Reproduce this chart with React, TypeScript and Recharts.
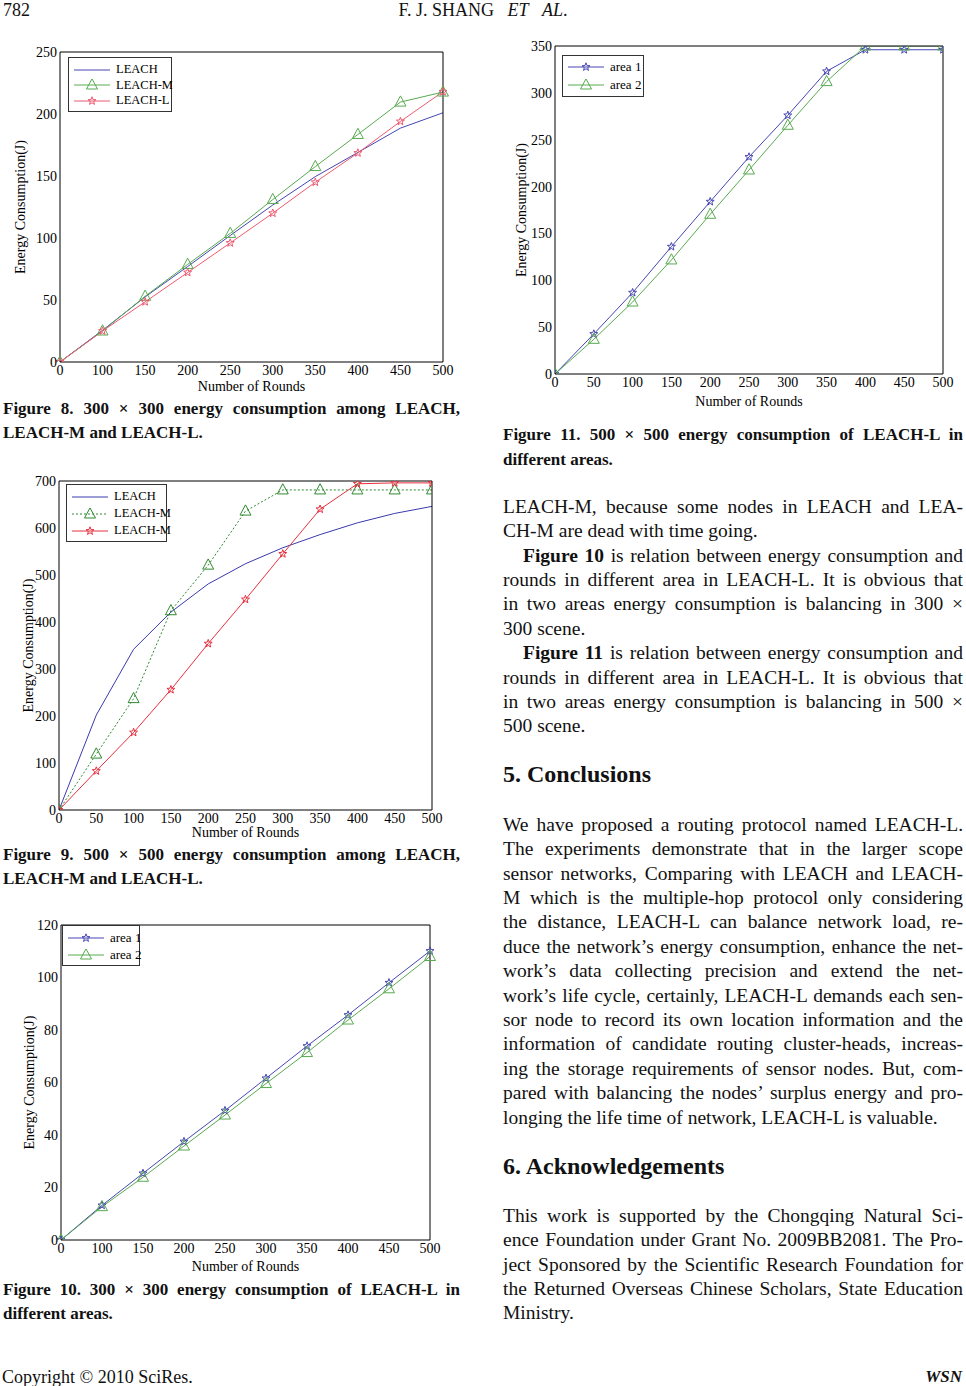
import React from "react";
import { LineChart, Line, XAxis, YAxis, Legend } from "recharts";

// x categories (figures 8 and 10 use uneven labels at even spacing)
const ROUNDS_UNEVEN = ["0", "100", "150", "200", "250", "300", "350", "400", "450", "500"];
const ROUNDS_EVEN = [0, 50, 100, 150, 200, 250, 300, 350, 400, 450, 500];

// Figure 8: 300 x 300
const FIG8_LEACH = [0, 25.6, 52.5, 77, 102, 126.6, 149.5, 169, 188.6, 201];
const FIG8_LEACH_M = [0, 25, 53, 78.7, 103.7, 131, 157.6, 183.5, 209.6, 217.7];
const FIG8_LEACH_L = [0, 25, 48.5, 72.2, 96, 120, 145, 168.6, 194, 218];
const FIG8_Y_TICKS = [0, 50, 100, 150, 200, 250];

// Figure 9: 500 x 500
const FIG9_LEACH = [0, 202, 342, 421, 481, 524, 558, 586, 611, 631, 646];
const FIG9_LEACH_M = [0, 119, 237, 424, 521, 636, 681, 681, 681, 681, 681];
const FIG9_LEACH_L = [0, 83, 165, 256, 354, 448, 545, 640, 694, 696, 696];
const FIG9_Y_TICKS = [0, 100, 200, 300, 400, 500, 600, 700];

// Figure 10: 300 x 300, two areas
const FIG10_AREA1 = [0, 13.2, 25.4, 37.5, 49.3, 61.6, 73.9, 85.7, 98, 110.1];
const FIG10_AREA2 = [0, 12.7, 23.9, 35.8, 47.6, 59.6, 71.4, 83.8, 95.7, 108];
const FIG10_Y_TICKS = [0, 20, 40, 60, 80, 100, 120];

// Figure 11: 500 x 500, two areas
const FIG11_AREA1 = [0, 42.7, 86.8, 135.9, 183.9, 231.6, 276, 323, 346, 346, 346];
const FIG11_AREA2 = [0, 37, 76.8, 121.7, 170.4, 217.7, 265.4, 312, 350, 350, 350];
const FIG11_Y_TICKS = [0, 50, 100, 150, 200, 250, 300, 350];

const SERIF = '"Liberation Serif", "Times New Roman", serif';

type Marker = "none" | "star" | "tri";
type Series = { key: string; name: string; color: string; marker: Marker; dash?: string; values: number[] };

function starPath(cx: number, cy: number, r: number) {
  let d = "";
  for (let i = 0; i < 10; i++) {
    const a = ((-90 + i * 36) * Math.PI) / 180;
    const rr = i % 2 ? r * 0.42 : r;
    d += (i ? "L" : "M") + (cx + rr * Math.cos(a)).toFixed(2) + "," + (cy + rr * Math.sin(a)).toFixed(2);
  }
  return d + "Z";
}

function triPath(cx: number, cy: number, s: number) {
  return `M${cx},${cy - s * 0.62}L${cx + s * 0.55},${cy + s * 0.4}L${cx - s * 0.55},${cy + s * 0.4}Z`;
}

function MarkerShape({ marker, cx, cy, color, size }: { marker: Marker; cx: number; cy: number; color: string; size: number }) {
  if (marker === "star") return <path d={starPath(cx, cy, size * 0.42)} fill="none" stroke={color} strokeWidth={1} />;
  if (marker === "tri") return <path d={triPath(cx, cy, size)} fill="none" stroke={color} strokeWidth={1} />;
  return null;
}

function makeDot(s: Series, size: number) {
  if (s.marker === "none") return false;
  return (p: any) => {
    if (p.cx == null || p.cy == null) return <g key={`${s.key}-${p.index}`} />;
    return (
      <g key={`${s.key}-${p.index}`}>
        <MarkerShape marker={s.marker} cx={p.cx} cy={p.cy} color={s.color} size={size} />
      </g>
    );
  };
}

type ChartProps = {
  box: { left: number; top: number; w: number; h: number };
  plot: { l: number; r: number; t: number; b: number };
  ylabelX: number;
  xlabelY: number;
  categories: (string | number)[];
  numericX: boolean;
  yTicks: number[];
  series: Series[];
  legend: { left: number; top: number; w: number; rowH: number; padTop: number; font: number; sample: number };
  markerSize: number;
  lineWidth?: number;
};

function Chart({ box, plot, ylabelX, xlabelY, categories, numericX, yTicks, series, legend, markerSize, lineWidth = 1 }: ChartProps) {
  const data = categories.map((c, i) => {
    const row: Record<string, number | string> = { round: c };
    series.forEach((s) => (row[s.key] = s.values[i]));
    return row;
  });
  const plotL = plot.l - box.left;
  const plotR = plot.r - box.left;
  const plotT = plot.t - box.top;
  const plotB = plot.b - box.top;
  const mLeft = ylabelX - box.left - 10;
  const yWidth = plotL - mLeft;
  const xHeight = xlabelY - box.top - plotB - 7;
  const margin = { top: plotT, right: box.w - plotR, bottom: box.h - plotB - xHeight, left: mLeft };
  const yDomain = [yTicks[0], yTicks[yTicks.length - 1]];

  const xCommon: any = numericX
    ? { dataKey: "round", type: "number", domain: [0, 500], ticks: categories, allowDataOverflow: true }
    : { dataKey: "round", type: "category", interval: 0 };
  const yCommon: any = { type: "number", domain: yDomain, ticks: yTicks, allowDataOverflow: true, interval: 0 };
  const tickStyle = { fontSize: 14, fill: "#000", fontFamily: SERIF };
  const stroke = { stroke: "#000", strokeWidth: 1 };

  const legendContent = () => (
    <div
      style={{
        width: legend.w,
        boxSizing: "border-box",
        border: "1px solid #333",
        background: "#fff",
        paddingTop: legend.padTop,
        paddingBottom: 2,
        fontFamily: SERIF,
        fontSize: legend.font,
        color: "#000",
      }}
    >
      {series.map((s) => (
        <div key={s.key} style={{ display: "flex", alignItems: "center", height: legend.rowH, whiteSpace: "nowrap" }}>
          <svg width={legend.sample + 10} height={12} style={{ flex: "none" }}>
            <line x1={5} x2={legend.sample + 5} y1={6} y2={6} stroke={s.color} strokeWidth={1} strokeDasharray={s.dash} />
            <MarkerShape marker={s.marker} cx={legend.sample / 2 + 5} cy={6} color={s.color} size={markerSize} />
          </svg>
          <span style={{ marginLeft: 1 }}>{s.name}</span>
        </div>
      ))}
    </div>
  );

  return (
    <div style={{ position: "absolute", left: box.left, top: box.top, width: box.w, height: box.h, fontFamily: SERIF }}>
      <LineChart width={box.w} height={box.h} data={data} margin={margin}>
        <XAxis
          {...xCommon}
          height={xHeight}
          tick={tickStyle}
          tickLine={false}
          tickSize={0}
          tickMargin={3}
          axisLine={stroke}
          label={{ value: "Number of Rounds", position: "bottom", offset: 0, fontSize: 14, fill: "#000" }}
        />
        <XAxis {...xCommon} xAxisId="xb" orientation="bottom" mirror height={10} tick={false} tickSize={5} tickLine={stroke} axisLine={false} />
        <XAxis {...xCommon} xAxisId="xt" orientation="top" mirror height={10} tick={false} tickSize={5} tickLine={stroke} axisLine={stroke} />
        <YAxis
          {...yCommon}
          width={yWidth}
          tick={tickStyle}
          tickLine={false}
          tickSize={0}
          tickMargin={3}
          axisLine={stroke}
          label={{
            value: "Energy Consumption(J)",
            angle: -90,
            position: "insideLeft",
            offset: 10,
            fontSize: 14,
            fill: "#000",
            style: { textAnchor: "middle" },
          }}
        />
        <YAxis {...yCommon} yAxisId="yl" orientation="left" mirror width={10} tick={false} tickSize={5} tickLine={stroke} axisLine={false} />
        <YAxis {...yCommon} yAxisId="yr" orientation="right" mirror width={10} tick={false} tickSize={5} tickLine={stroke} axisLine={stroke} />
        {series.map((s) => (
          <Line
            key={s.key}
            type="linear"
            dataKey={s.key}
            name={s.name}
            stroke={s.color}
            strokeWidth={lineWidth}
            strokeDasharray={s.dash}
            dot={makeDot(s, markerSize) as any}
            activeDot={false}
            isAnimationActive={false}
          />
        ))}
        <Legend
          layout="vertical"
          align="center"
          verticalAlign="middle"
          wrapperStyle={{ left: legend.left - box.left, top: legend.top - box.top, width: legend.w, height: "auto" }}
          content={legendContent}
        />
      </LineChart>
    </div>
  );
}

const BLUE = "#4646b4";
const GREEN = "#58aa50";
const RED = "#ee5a70";

function TextLine({ children, last, indent }: { children: React.ReactNode; last?: boolean; indent?: boolean }) {
  return (
    <div
      style={{
        textAlign: last ? "left" : "justify",
        textAlignLast: last ? "left" : "justify",
        paddingLeft: indent ? 20 : 0,
      }}
    >
      {children}
    </div>
  );
}

function Block({ left, top, width, size, lh, bold, children }: { left: number; top: number; width: number; size: number; lh: number; bold?: boolean; children: React.ReactNode }) {
  return (
    <div
      style={{
        position: "absolute",
        left,
        top,
        width,
        fontFamily: SERIF,
        fontSize: size,
        lineHeight: `${lh}px`,
        fontWeight: bold ? "bold" : "normal",
        color: "#111",
      }}
    >
      {children}
    </div>
  );
}

export default function App() {
  const body = 19.5;
  const lh = 24.4;
  return (
    <div style={{ position: "absolute", left: 0, top: 0, width: 966, height: 1386, background: "#fff", overflow: "hidden" }}>
      {/* header */}
      <Block left={3} top={0} width={100} size={18} lh={20}>782</Block>
      <div style={{ position: "absolute", left: 0, top: 0, width: 966, textAlign: "center", fontFamily: SERIF, fontSize: 18, lineHeight: "20px", color: "#111" }}>
        F. J. SHANG&nbsp;&nbsp;&nbsp;<i>ET</i>&nbsp;&nbsp;&nbsp;<i>AL</i>.
      </div>

      {/* Figure 8 */}
      <Chart
        box={{ left: 0, top: 40, w: 460, h: 360 }}
        plot={{ l: 60, r: 443, t: 52, b: 362 }}
        ylabelX={20}
        xlabelY={388}
        categories={ROUNDS_UNEVEN}
        numericX={false}
        yTicks={FIG8_Y_TICKS}
        markerSize={10}
        series={[
          { key: "leach", name: "LEACH", color: BLUE, marker: "none", values: FIG8_LEACH },
          { key: "leachm", name: "LEACH-M", color: GREEN, marker: "tri", values: FIG8_LEACH_M },
          { key: "leachl", name: "LEACH-L", color: RED, marker: "star", values: FIG8_LEACH_L },
        ]}
        legend={{ left: 68, top: 57, w: 104, rowH: 15.5, padTop: 4, font: 12.5, sample: 36 }}
      />
      <Block left={3} top={397} width={457} size={17} lh={23.5} bold>
        <TextLine>Figure 8. 300 × 300 energy consumption among LEACH,</TextLine>
        <TextLine last>LEACH-M and LEACH-L.</TextLine>
      </Block>

      {/* Figure 9 */}
      <Chart
        box={{ left: 0, top: 470, w: 460, h: 380 }}
        plot={{ l: 59, r: 432, t: 481, b: 810 }}
        ylabelX={28}
        xlabelY={834}
        categories={ROUNDS_EVEN}
        numericX={true}
        yTicks={FIG9_Y_TICKS}
        markerSize={10}
        series={[
          { key: "leach", name: "LEACH", color: "#3a3aae", marker: "none", values: FIG9_LEACH },
          { key: "leachm", name: "LEACH-M", color: "#2f8a2f", marker: "tri", dash: "2 2", values: FIG9_LEACH_M },
          { key: "leachl", name: "LEACH-M", color: "#e8303e", marker: "star", values: FIG9_LEACH_L },
        ]}
        legend={{ left: 66, top: 484, w: 101, rowH: 17, padTop: 3, font: 12.5, sample: 36 }}
      />
      <Block left={3} top={843} width={457} size={17} lh={23.5} bold>
        <TextLine>Figure 9. 500 × 500 energy consumption among LEACH,</TextLine>
        <TextLine last>LEACH-M and LEACH-L.</TextLine>
      </Block>

      {/* Figure 10 */}
      <Chart
        box={{ left: 0, top: 910, w: 460, h: 370 }}
        plot={{ l: 61, r: 430, t: 925, b: 1240 }}
        ylabelX={29}
        xlabelY={1268}
        categories={ROUNDS_UNEVEN}
        numericX={false}
        yTicks={FIG10_Y_TICKS}
        markerSize={10}
        series={[
          { key: "a1", name: "area 1", color: BLUE, marker: "star", values: FIG10_AREA1 },
          { key: "a2", name: "area 2", color: GREEN, marker: "tri", values: FIG10_AREA2 },
        ]}
        legend={{ left: 62, top: 925, w: 78, rowH: 17, padTop: 3, font: 13, sample: 36 }}
      />
      <Block left={3} top={1278} width={457} size={17} lh={24} bold>
        <TextLine>Figure 10. 300 × 300 energy consumption of LEACH-L in</TextLine>
        <TextLine last>different areas.</TextLine>
      </Block>

      {/* Figure 11 */}
      <Chart
        box={{ left: 500, top: 30, w: 466, h: 385 }}
        plot={{ l: 555, r: 943, t: 46, b: 374 }}
        ylabelX={521}
        xlabelY={403}
        categories={ROUNDS_EVEN}
        numericX={true}
        yTicks={FIG11_Y_TICKS}
        markerSize={10}
        series={[
          { key: "a1", name: "area 1", color: BLUE, marker: "star", values: FIG11_AREA1 },
          { key: "a2", name: "area 2", color: GREEN, marker: "tri", values: FIG11_AREA2 },
        ]}
        legend={{ left: 562, top: 55, w: 82, rowH: 18, padTop: 2, font: 13, sample: 36 }}
      />
      <Block left={503} top={423} width={460} size={17} lh={24.5} bold>
        <TextLine>Figure 11. 500 × 500 energy consumption of LEACH-L in</TextLine>
        <TextLine last>different areas.</TextLine>
      </Block>

      {/* right column text */}
      <Block left={503} top={507 - lh / 2} width={460} size={body} lh={lh}>
        <TextLine>LEACH-M, because some nodes in LEACH and LEA-</TextLine>
        <TextLine last>CH-M are dead with time going.</TextLine>
        <TextLine indent><b>Figure 10</b> is relation between energy consumption and</TextLine>
        <TextLine>rounds in different area in LEACH-L. It is obvious that</TextLine>
        <TextLine>in two areas energy consumption is balancing in 300 ×</TextLine>
        <TextLine last>300 scene.</TextLine>
        <TextLine indent><b>Figure 11</b> is relation between energy consumption and</TextLine>
        <TextLine>rounds in different area in LEACH-L. It is obvious that</TextLine>
        <TextLine>in two areas energy consumption is balancing in 500 ×</TextLine>
        <TextLine last>500 scene.</TextLine>
      </Block>

      <Block left={503} top={759} width={460} size={24} lh={30} bold>5. Conclusions</Block>

      <Block left={503} top={825 - lh / 2} width={460} size={body} lh={lh}>
        <TextLine>We have proposed a routing protocol named LEACH-L.</TextLine>
        <TextLine>The experiments demonstrate that in the larger scope</TextLine>
        <TextLine>sensor networks, Comparing with LEACH and LEACH-</TextLine>
        <TextLine>M which is the multiple-hop protocol only considering</TextLine>
        <TextLine>the distance, LEACH-L can balance network load, re-</TextLine>
        <TextLine>duce the network’s energy consumption, enhance the net-</TextLine>
        <TextLine>work’s data collecting precision and extend the net-</TextLine>
        <TextLine>work’s life cycle, certainly, LEACH-L demands each sen-</TextLine>
        <TextLine>sor node to record its own location information and the</TextLine>
        <TextLine>information of candidate routing cluster-heads, increas-</TextLine>
        <TextLine>ing the storage requirements of sensor nodes. But, com-</TextLine>
        <TextLine>pared with balancing the nodes’ surplus energy and pro-</TextLine>
        <TextLine last>longing the life time of network, LEACH-L is valuable.</TextLine>
      </Block>

      <Block left={503} top={1151} width={460} size={24} lh={30} bold>6. Acknowledgements</Block>

      <Block left={503} top={1216 - lh / 2} width={460} size={body} lh={lh}>
        <TextLine>This work is supported by the Chongqing Natural Sci-</TextLine>
        <TextLine>ence Foundation under Grant No. 2009BB2081. The Pro-</TextLine>
        <TextLine>ject Sponsored by the Scientific Research Foundation for</TextLine>
        <TextLine>the Returned Overseas Chinese Scholars, State Education</TextLine>
        <TextLine last>Ministry.</TextLine>
      </Block>

      {/* footer */}
      <Block left={2} top={1367} width={300} size={18} lh={20}>Copyright © 2010 SciRes.</Block>
      <div style={{ position: "absolute", right: 4, top: 1367, fontFamily: SERIF, fontSize: 17, lineHeight: "20px", fontWeight: "bold", fontStyle: "italic", color: "#111" }}>
        WSN
      </div>
    </div>
  );
}
